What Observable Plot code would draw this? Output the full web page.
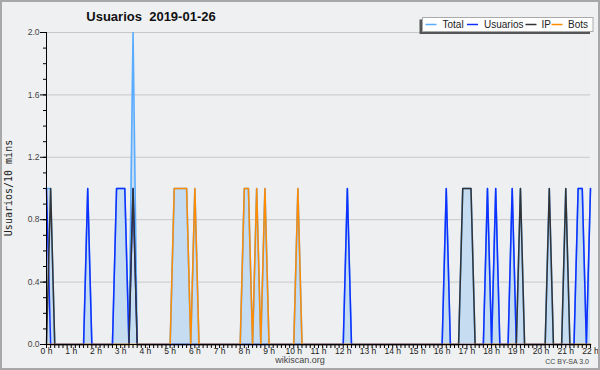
<!DOCTYPE html>
<html><head><meta charset="utf-8">
<script src="https://cdn.jsdelivr.net/npm/d3@7"></script>
<script src="https://cdn.jsdelivr.net/npm/@observablehq/plot@0.6"></script>
<style>
html,body{margin:0;padding:0;background:#eff0f1;}
#chart{width:600px;height:370px;}
svg{display:block;}
</style></head><body><div id="chart"></div>
<script>
// time grid: one point every 10 minutes, 00:00 to 22:00
const minutes = d3.range(0, 1321, 10);
// values per 10-minute step (12 steps per row = 2 hours)
const usuarios = [
  1,0,0,0,0,0,0,0,0,0,1,0,
  0,0,0,0,0,1,1,1,0,1,0,0,
  0,0,0,0,0,0,0,0,0,0,0,0,
  0,0,0,0,0,0,0,0,0,0,0,0,
  0,0,0,0,0,0,0,0,0,0,0,0,
  0,0,0,0,0,0,0,0,0,0,0,0,
  0,1,0,0,0,0,0,0,0,0,0,0,
  0,0,0,0,0,0,0,0,0,0,0,0,
  0,1,0,0,0,0,0,0,0,0,0,1,
  0,1,0,0,0,1,0,0,0,0,0,0,
  0,0,0,0,0,0,0,0,0,1,1,0,
  1];
const ip = [
  0,1,0,0,0,0,0,0,0,0,0,0,
  0,0,0,0,0,0,0,0,0,1,0,0,
  0,0,0,0,0,0,0,0,0,0,0,0,
  0,0,0,0,0,0,0,0,0,0,0,0,
  0,0,0,0,0,0,0,0,0,0,0,0,
  0,0,0,0,0,0,0,0,0,0,0,0,
  0,0,0,0,0,0,0,0,0,0,0,0,
  0,0,0,0,0,0,0,0,0,0,0,0,
  0,0,0,0,0,1,1,1,0,0,0,0,
  0,0,0,0,0,0,0,1,0,0,0,0,
  0,0,1,0,0,0,1,0,0,0,0,0,
  0];
const bots = [
  0,0,0,0,0,0,0,0,0,0,0,0,
  0,0,0,0,0,0,0,0,0,0,0,0,
  0,0,0,0,0,0,0,1,1,1,1,0,
  1,0,0,0,0,0,0,0,0,0,0,0,
  1,1,0,1,0,1,0,0,0,0,0,0,
  0,1,0,0,0,0,0,0,0,0,0,0,
  0,0,0,0,0,0,0,0,0,0,0,0,
  0,0,0,0,0,0,0,0,0,0,0,0,
  0,0,0,0,0,0,0,0,0,0,0,0,
  0,0,0,0,0,0,0,0,0,0,0,0,
  0,0,0,0,0,0,0,0,0,0,0,0,
  0];
const hourTicks = d3.range(0, 23);
const yMajor = [0, 0.4, 0.8, 1.2, 1.6, 2.0];
const yMinor = d3.range(0, 21).map(k => k / 10);
const seriesNames = ["Total", "Usuarios", "IP", "Bots"];
const seriesColors = ["#5aacff", "#1030ff", "#333333", "#ff8c00"];
const title = "Usuarios  2019-01-26";
const yLabel = "Usuarios/10 mins";

const data = minutes.map((m, i) => ({
  t: m / 60, usuarios: usuarios[i], ip: ip[i], bots: bots[i],
  total: usuarios[i] + ip[i] + bots[i]
}));

const plot = Plot.plot({
  width: 600, height: 370,
  marginLeft: 46, marginRight: 10, marginTop: 32, marginBottom: 26,
  style: {background: "none", fontFamily: "Liberation Sans", fontSize: "8.5px", color: "#333"},
  x: {domain: [0, 22]},
  y: {domain: [0, 2]},
  marks: [
    Plot.frame({fill: "#eeeff1", stroke: "none"}),
    Plot.gridY(yMajor.slice(1), {stroke: "#c8c8c8", strokeOpacity: 1}),
    Plot.areaY(data, {x: "t", y: "total", fill: "#c6dcf0"}),
    Plot.lineY(data, {x: "t", y: "total", stroke: seriesColors[0], strokeWidth: 1.6}),
    Plot.lineY(data, {x: "t", y: "usuarios", stroke: seriesColors[1], strokeWidth: 1.5}),
    Plot.lineY(data, {x: "t", y: "ip", stroke: seriesColors[2], strokeWidth: 1.5}),
    Plot.lineY(data, {x: "t", y: "bots", stroke: seriesColors[3], strokeWidth: 1.5}),
    Plot.axisX(minutes.map(m => m / 60), {tickSize: 4, tickFormat: () => "", label: null, stroke: "#000"}),
    Plot.axisX(hourTicks, {tickSize: 0, tickPadding: 3, tickFormat: d => d + " h", label: null, fill: "#222"}),
    Plot.axisY(yMinor, {tickSize: 3, tickFormat: () => "", label: null, stroke: "#000"}),
    Plot.axisY(yMajor, {tickSize: 6, tickPadding: 1, tickFormat: d3.format(".1f"), label: null, stroke: "#000", fill: "#444"}),
    Plot.ruleX([0], {stroke: "#000"}),
    Plot.ruleY([0], {stroke: "#000"})
  ]
});

const svg = d3.select(plot);
// border
svg.append("rect").attr("x", 1).attr("y", 1).attr("width", 598).attr("height", 368)
  .attr("fill", "none").attr("stroke", "#a8a8a8").attr("stroke-width", 2);
// title
svg.append("text").attr("x", 151).attr("y", 21).attr("text-anchor", "middle")
  .attr("font-family", "Liberation Sans").attr("font-weight", "bold").attr("font-size", 13)
  .attr("fill", "#111").attr("xml:space", "preserve").style("white-space", "pre").text(title);
// y label
svg.append("text").attr("transform", "translate(12,188) rotate(-90)").attr("text-anchor", "middle")
  .attr("font-family", "DejaVu Sans Mono").attr("font-size", 10).attr("fill", "#222").text(yLabel);
// legend
const lg = svg.append("g");
lg.append("rect").attr("x", 419.5).attr("y", 19.5).attr("width", 170.5).attr("height", 14.5).attr("fill", "#555");
lg.append("rect").attr("x", 422.5).attr("y", 17.5).attr("width", 170.5).attr("height", 14).attr("fill", "#fff").attr("stroke", "#aaa");
const lineX = [425.5, 467, 525.5, 551.5];
const textX = [442.5, 484, 541.5, 568];
seriesNames.forEach((n, i) => {
  lg.append("line").attr("x1", lineX[i]).attr("x2", lineX[i] + 11).attr("y1", 24.5).attr("y2", 24.5)
    .attr("stroke", seriesColors[i]).attr("stroke-width", 1.5);
  lg.append("text").attr("x", textX[i]).attr("y", 28).attr("text-anchor", "start")
    .attr("font-family", "Liberation Sans").attr("font-size", 10).attr("fill", "#222").text(n);
});
// footer
svg.append("text").attr("x", 300).attr("y", 363).attr("text-anchor", "middle")
  .attr("font-family", "Liberation Sans").attr("font-size", 9).attr("fill", "#444").text("wikiscan.org");
svg.append("text").attr("x", 589).attr("y", 364).attr("text-anchor", "end")
  .attr("font-family", "Liberation Sans").attr("font-size", 7).attr("fill", "#444").text("CC BY-SA 3.0");

document.getElementById("chart").appendChild(plot);
</script></body></html>
